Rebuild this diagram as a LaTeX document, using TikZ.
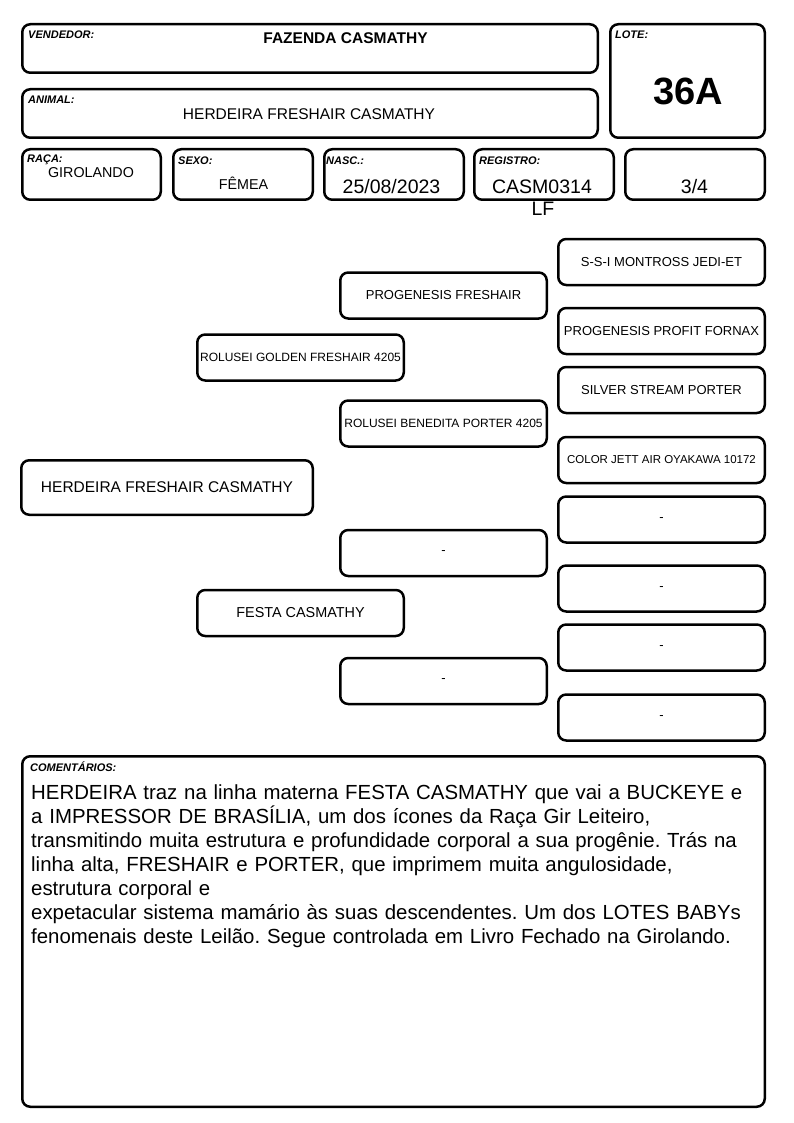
\documentclass[tikz,border=0pt]{standalone}
\usepackage{fontspec}
\setmainfont{Liberation Sans}
\usetikzlibrary{positioning}
\tikzset{
  card/.style={draw, line width=2.5pt, rounded corners=8pt, inner sep=0pt, anchor=north west},
  tag/.style={font=\fontsize{11}{12}\selectfont\bfseries\itshape, anchor=base west, inner sep=0pt},
  val/.style={anchor=base, inner sep=0pt},
  ped/.style={draw, line width=2.5pt, rounded corners=8pt, inner sep=0pt, minimum width=206.5pt, minimum height=46pt},
}
\newcommand{\pxsize}[1]{\fontsize{#1}{#1}\selectfont}
\frenchspacing

\begin{document}
\begin{tikzpicture}[x=1pt,y=-1pt]
  \useasboundingbox (0,0) rectangle (794,1123);
  % header cards
  \node[card, minimum width=575.5pt, minimum height=48.5pt] (vendor) at (21,23) {};
  \node[card, minimum width=575.5pt, minimum height=48.5pt] (animal) at (21,88) {};
  \node[card, minimum width=154.5pt, minimum height=113.5pt] (lote) at (609,23) {};
  \node[card, minimum width=138.5pt, minimum height=50.5pt] (raca) at (21,148) {};
  \node[card, minimum width=139.5pt, minimum height=50.5pt] (sexo) at (172,148) {};
  \node[card, minimum width=139.5pt, minimum height=50.5pt] (nasc) at (323,148) {};
  \node[card, minimum width=139.5pt, minimum height=50.5pt] (registro) at (473,148) {};
  \node[card, minimum width=139.5pt, minimum height=50.5pt] (grau) at (624,148) {};
  \node[card, minimum width=742.5pt, minimum height=350.5pt] (coment) at (21,755) {};

  \node[tag] (vendortag) at (28,39) {VENDEDOR:};
  \node[tag] (animaltag) at (28,103.3) {ANIMAL:};
  \node[tag] (lotetag) at (615,39) {LOTE:};
  \node[tag] (racatag) at (27,162.3) {RAÇA:};
  \node[tag] (sexotag) at (178,165) {SEXO:};
  \node[tag] (nasctag) at (326,165) {NASC.:};
  \node[tag] (registrotag) at (479,165) {REGISTRO:};
  \node[tag] (comenttag) at (30,771) {COMENTÁRIOS:};

  \node[val, font=\pxsize{15.5}\bfseries] (vendorname) at (345.5,43.3) {FAZENDA CASMATHY};
  \node[val, font=\pxsize{15.5}] (animalname) at (309,119.3) {HERDEIRA FRESHAIR CASMATHY};
  \node[val, font=\pxsize{38}\bfseries] (loteno) at (688,105) {36A};
  \node[val, font=\pxsize{14.3}] (racaname) at (91,177.7) {GIROLANDO};
  \node[val, font=\pxsize{14.3}] (sexoname) at (243.5,189.3) {FÊMEA};
  \node[val, font=\pxsize{19.5}] (nascdate) at (391.5,193.3) {25/08/2023};
  \node[val, font=\pxsize{19.5}] (regnum) at (542,193.3) {CASM0314};
  \node[val, font=\pxsize{19.5}] (regnumb) at (543,216) {LF};
  \node[val, font=\pxsize{19.5}] (grauval) at (694.5,193.3) {3/4};

  % pedigree
  \node[ped, minimum width=291.5pt, minimum height=54.5pt, font=\pxsize{15.5}] (self) at (167,487.5) {HERDEIRA FRESHAIR CASMATHY};
  \node[ped, font=\pxsize{12}] (sire) at (300.5,357.5) {ROLUSEI GOLDEN FRESHAIR 4205};
  \node[ped, font=\pxsize{14.4}] (dam) at (300.5,613) {FESTA CASMATHY};
  \node[ped, font=\pxsize{13}] (ss) at (443.5,295.5) {PROGENESIS FRESHAIR};
  \node[ped, font=\pxsize{12}] (sd) at (443.5,423.5) {ROLUSEI BENEDITA PORTER 4205};
  \node[ped, font=\pxsize{13}] (ds) at (443.5,553) {-};
  \node[ped, font=\pxsize{13}] (dd) at (443.5,681) {-};
  \node[ped, font=\pxsize{13}] (sss) at (661.5,262) {S-S-I MONTROSS JEDI-ET};
  \node[ped, font=\pxsize{13}] (ssd) at (661.5,331) {PROGENESIS PROFIT FORNAX};
  \node[ped, font=\pxsize{13}] (sds) at (661.5,390) {SILVER STREAM PORTER};
  \node[ped, font=\pxsize{11.5}] (sdd) at (661.5,460) {COLOR JETT AIR OYAKAWA 10172};
  \node[ped, font=\pxsize{13}] (dss) at (661.5,519.5) {-};
  \node[ped, font=\pxsize{13}] (dsd) at (661.5,588.5) {-};
  \node[ped, font=\pxsize{13}] (dds) at (661.5,647.5) {-};
  \node[ped, font=\pxsize{13}] (ddd) at (661.5,717.5) {-};

  % comments
  \node[anchor=north west, inner sep=0pt, text width=740pt, align=left, font=\fontsize{20.4}{24}\selectfont] (comenttext) at (31,784.5) {HERDEIRA traz na linha materna FESTA CASMATHY que vai a BUCKEYE e\\
a IMPRESSOR DE BRASÍLIA, um dos ícones da Raça Gir Leiteiro,\\
transmitindo muita estrutura e profundidade corporal a sua progênie. Trás na\\
linha alta, FRESHAIR e PORTER, que imprimem muita angulosidade,\\
estrutura corporal e\\
expetacular sistema mamário às suas descendentes. Um dos LOTES BABYs\\
fenomenais deste Leilão. Segue controlada em Livro Fechado na Girolando.};
\end{tikzpicture}
\end{document}
